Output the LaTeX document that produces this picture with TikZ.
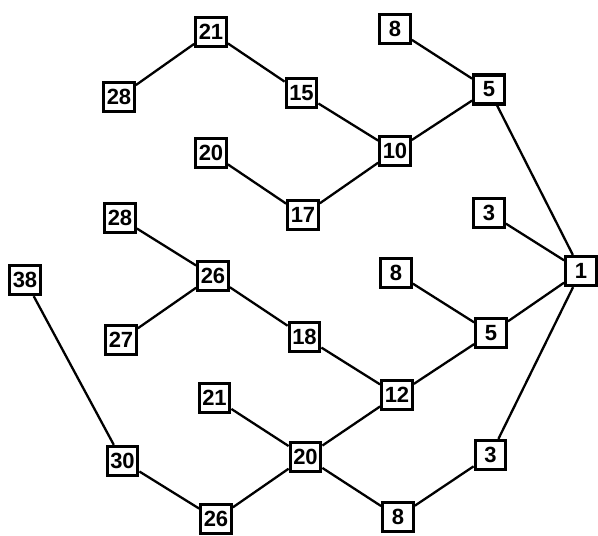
\documentclass[tikz,border=0pt]{standalone}
\usepackage{fontspec}
\setmainfont{Liberation Sans}
\begin{document}
\begin{tikzpicture}[x=1pt,y=-1pt,
  nbox/.style={draw, line width=3.3pt, fill=white, minimum width=30.5pt, minimum height=29pt, inner sep=0pt, font=\bfseries\fontsize{22}{22}\selectfont},
  edge/.style={line width=2.3pt}]
\useasboundingbox (0,0) rectangle (598,536);
% nodes
\node[nbox] (a8)  at (395,29) {8};
\node[nbox] (a21) at (211,32) {21};
\node[nbox] (a28) at (119,97) {28};
\node[nbox] (a15) at (301.5,93) {15};
\node[nbox] (a5)  at (489,89.5) {5};
\node[nbox] (a20) at (211,153) {20};
\node[nbox] (a10) at (395,151) {10};
\node[nbox] (a17) at (303,215) {17};
\node[nbox] (b3)  at (489,213) {3};
\node[nbox] (b28) at (120,218) {28};
\node[nbox] (b38) at (25,280) {38};
\node[nbox] (b26) at (213,276) {26};
\node[nbox] (b8)  at (396,273) {8};
\node[nbox] (one) at (581,271) {1};
\node[nbox] (b27) at (121,340) {27};
\node[nbox] (b18) at (304.5,337) {18};
\node[nbox] (b5)  at (491,333) {5};
\node[nbox] (c21) at (214.5,398) {21};
\node[nbox] (c12) at (397,395) {12};
\node[nbox] (c30) at (122.5,461) {30};
\node[nbox] (c20) at (305.5,457) {20};
\node[nbox] (c3)  at (490.5,455) {3};
\node[nbox] (c26) at (216,519) {26};
\node[nbox] (c8)  at (398,517) {8};
% edges
\draw[edge] (a28) -- (a21);
\draw[edge] (a21) -- (a15);
\draw[edge] (a15) -- (a10);
\draw[edge] (a20) -- (a17);
\draw[edge] (a17) -- (a10);
\draw[edge] (a10) -- (a5);
\draw[edge] (a8) -- (a5);
\draw[edge] (a5) -- (one);
\draw[edge] (b3) -- (one);
\draw[edge] (b5) -- (one);
\draw[edge] (c3) -- (one);
\draw[edge] (b28) -- (b26);
\draw[edge] (b27) -- (b26);
\draw[edge] (b26) -- (b18);
\draw[edge] (b18) -- (c12);
\draw[edge] (c12) -- (b5);
\draw[edge] (b8) -- (b5);
\draw[edge] (c21) -- (c20);
\draw[edge] (c20) -- (c12);
\draw[edge] (c20) -- (c8);
\draw[edge] (c8) -- (c3);
\draw[edge] (c26) -- (c20);
\draw[edge] (c30) -- (c26);
\draw[edge] (b38) -- (c30);
\end{tikzpicture}
\end{document}
